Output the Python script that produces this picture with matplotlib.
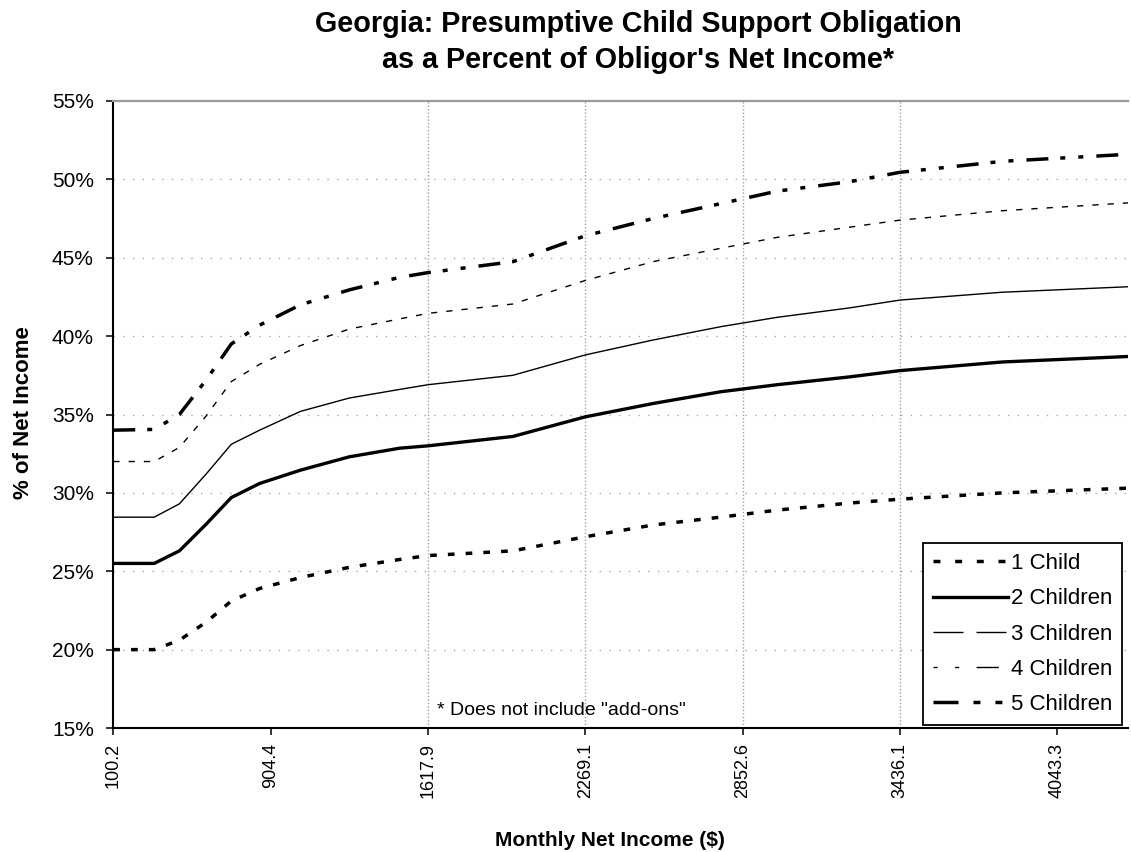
import matplotlib
matplotlib.use("Agg")
import matplotlib.pyplot as plt
from matplotlib.lines import Line2D

plt.rcParams['font.family'] = ['Liberation Sans', 'DejaVu Sans']
plt.rcParams['lines.scale_dashes'] = False

# category positions (10 categories between labelled ticks)
cat_pos = [0, 2.6, 4.2, 5.9, 7.5, 9.3, 11.9, 15, 18.2, 20, 25.4, 30, 34.3, 38.6, 42.2, 46.8, 50, 56.5, 64.5]
tick_pos = [0, 10, 20, 30, 40, 50, 60]
tick_labels = ["100.2", "904.4", "1617.9", "2269.1", "2852.6", "3436.1", "4043.3"]
vgrid_pos = [20, 30, 40, 50]

# percent of net income
one_child = [20.0, 20.0, 20.6, 21.75, 23.1, 23.9, 24.6, 25.25, 25.75, 26.0, 26.3, 27.2, 27.95, 28.45, 28.9, 29.35, 29.6, 30.0, 30.3]
two_children = [25.5, 25.5, 26.3, 28.0, 29.7, 30.6, 31.45, 32.3, 32.85, 33.0, 33.6, 34.85, 35.7, 36.45, 36.9, 37.4, 37.8, 38.35, 38.7]
three_children = [28.45, 28.45, 29.3, 31.2, 33.1, 34.0, 35.2, 36.05, 36.6, 36.9, 37.5, 38.8, 39.75, 40.6, 41.2, 41.8, 42.3, 42.8, 43.15]
four_children = [32.0, 32.0, 32.9, 34.9, 37.1, 38.2, 39.4, 40.45, 41.1, 41.45, 42.05, 43.55, 44.75, 45.6, 46.3, 46.95, 47.4, 48.0, 48.5]
five_children = [34.0, 34.05, 35.0, 37.2, 39.5, 40.7, 42.0, 42.95, 43.75, 44.05, 44.75, 46.4, 47.5, 48.45, 49.25, 49.85, 50.45, 51.15, 51.6]

W, H = 1131, 852
fig = plt.figure(figsize=(W / 100, H / 100), dpi=100)
ax = fig.add_axes([113.3 / W, 1 - 728 / H, (1128 - 113.3) / W, (728 - 101) / H])

# grid
for y in [20, 25, 30, 35, 40, 45, 50]:
    ax.axhline(y, color='#a8a8a8', lw=1.0, ls=(0, (1, 6)), zorder=1)
for x in vgrid_pos:
    ax.axvline(x, color='#a0a0a0', lw=1.0, ls=(0, (1, 1.5)), zorder=1)

# series
ax.plot(cat_pos, one_child, color='black', lw=2.5, ls=(0, (4.8, 8.0)), zorder=3)
ax.plot(cat_pos, two_children, color='black', lw=2.4, zorder=3)
ax.plot(cat_pos, three_children, color='black', lw=1.0, zorder=3)
ax.plot(cat_pos, four_children, color='black', lw=1.0, ls=(0, (4.5, 6.5)), zorder=3)
ax.plot(cat_pos, five_children, color='black', lw=2.5, ls=(0, (15.8, 8.6, 3.6, 9.4, 3.6, 9.4)), zorder=3)

ax.set_xlim(0, 64.5)
ax.set_ylim(15, 55)
ax.set_yticks([15, 20, 25, 30, 35, 40, 45, 50, 55])
ax.set_yticklabels([f"{v}%" for v in range(15, 56, 5)], fontsize=15)
ax.set_xticks(tick_pos)
ax.set_xticklabels(tick_labels, rotation=90, fontsize=13)
ax.tick_params(axis='y', direction='out', length=5, width=1.1, pad=9)
ax.tick_params(axis='x', direction='out', length=5, width=1.1, pad=6)

for s in ['left', 'bottom']:
    ax.spines[s].set_linewidth(1.5)
ax.spines['right'].set_visible(False)
ax.spines['top'].set_color('#9a9a9a')
ax.spines['top'].set_linewidth(1.6)

# legend with its own dash patterns
handles = [
    Line2D([], [], color='black', lw=2.5, ls=(0, (5, 10.6))),
    Line2D([], [], color='black', lw=2.4),
    Line2D([], [], color='black', lw=1.0, ls=(0, (21.6, 9.4))),
    Line2D([], [], color='black', lw=1.0, ls=(0, (3, 12.5, 3, 12.5, 16, 8))),
    Line2D([], [], color='black', lw=2.5, ls=(0, (18, 10.8, 5, 10.8, 5, 10.8))),
]
labels = ["1 Child", "2 Children", "3 Children", "4 Children", "5 Children"]
leg = ax.legend(handles, labels, loc='lower right', bbox_to_anchor=(0.9941, 0.0048),
                borderaxespad=0, fontsize=16, handlelength=3.4, handletextpad=0.1,
                labelspacing=0.64, borderpad=0.45, fancybox=False, framealpha=1)
leg.get_frame().set_edgecolor('black')
leg.get_frame().set_linewidth(1.3)
leg.set_zorder(5)

# titles and labels
fig.text(638 / W, 1 - 32 / H, "Georgia: Presumptive Child Support Obligation",
         ha='center', va='baseline', fontsize=20.7, fontweight='bold')
fig.text(638 / W, 1 - 68 / H, "as a Percent of Obligor's Net Income*",
         ha='center', va='baseline', fontsize=20.7, fontweight='bold')
fig.text(24 / W, 1 - 413 / H, "% of Net Income", rotation=90,
         ha='center', va='center', fontsize=16, fontweight='bold')
fig.text(610 / W, 1 - 841 / H, "Monthly Net Income ($)",
         ha='center', va='center', fontsize=15, fontweight='bold')
fig.text(437 / W, 1 - 715 / H, "* Does not include \"add-ons\"",
         ha='left', va='baseline', fontsize=14)

fig.savefig("out.png", dpi=100)
